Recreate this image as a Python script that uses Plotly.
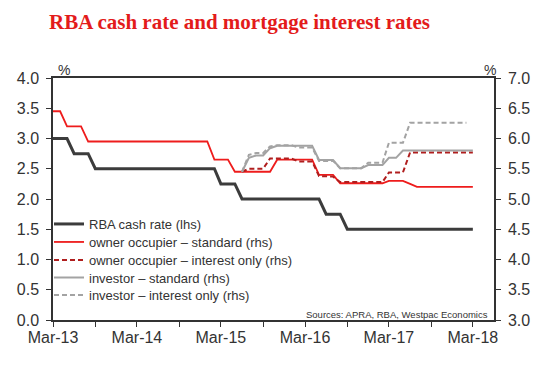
import pandas as pd
import plotly.graph_objects as go

# ---- data (monthly, first of month) ----
months = pd.date_range("2013-03-01", "2018-03-01", freq="MS")  # 61 months

cash_rate = ([3.0] * 3 + [2.75] * 3 + [2.5] * 18 + [2.25] * 3 + [2.0] * 12
             + [1.75] * 3 + [1.5] * 19)

oo_standard = ([6.45] * 2 + [6.20] * 3 + [5.95] * 18 + [5.65] * 3 + [5.45] * 6
               + [5.65] * 6 + [5.40] * 3 + [5.26] * 7 + [5.30] * 3 + [5.25]
               + [5.20] * 9)

# series below start in Jun-15
mortgage_start = "2015-06-01"
oo_interest_only = ([5.45] + [5.50] * 3 + [5.67] * 4 + [5.62] * 3 + [5.38]
                    + [5.37] * 2 + [5.28] * 7 + [5.44] * 3 + [5.77] * 10)
inv_standard = ([5.45] + [5.68] + [5.72] * 2 + [5.84] + [5.88] * 6 + [5.645] * 3
                + [5.51] * 4 + [5.56] * 3 + [5.68] * 2 + [5.80] * 11)
inv_interest_only = ([5.45] + [5.73] + [5.76] * 2 + [5.87] + [5.89] * 3
                     + [5.85] * 3 + [5.63] * 3 + [5.51] * 4 + [5.60] * 3
                     + [5.93] * 3 + [6.26] * 9)

tick_dates = pd.date_range("2013-03-01", "2018-03-01", freq="6MS")
tick_labels = ["Mar-13", "", "Mar-14", "", "Mar-15", "", "Mar-16", "",
               "Mar-17", "", "Mar-18"]

series_names = ["RBA cash rate (lhs)",
                "owner occupier \u2013 standard (rhs)",
                "owner occupier \u2013 interest only (rhs)",
                "investor \u2013 standard (rhs)",
                "investor \u2013 interest only (rhs)"]


def dates_from(start, n):
    return pd.date_range(start, periods=n, freq="MS")


W, H = 553, 378
ML, MR, MT, MB = 53, 59, 78, 58
PW, PH = W - ML - MR, H - MT - MB


def px(xp):
    return (xp - ML) / PW


def py(yp):
    return (H - MB - yp) / PH


SANS = "Liberation Sans, Arial, sans-serif"
AX = "#333333"

legend_ids = ["legend", "legend2", "legend3", "legend4", "legend5"]
legend_row_centers = [225, 243, 261, 278.5, 296]

fig = go.Figure()
fig.add_trace(go.Scatter(x=months, y=cash_rate, name=series_names[0], yaxis="y",
                         legend=legend_ids[0], mode="lines",
                         line=dict(color="#3c3c3c", width=3)))
fig.add_trace(go.Scatter(x=months, y=oo_standard, name=series_names[1], yaxis="y2",
                         legend=legend_ids[1], mode="lines",
                         line=dict(color="#ee1c1c", width=1.8)))
fig.add_trace(go.Scatter(x=dates_from(mortgage_start, len(oo_interest_only)),
                         y=oo_interest_only, name=series_names[2], yaxis="y2",
                         legend=legend_ids[2], mode="lines",
                         line=dict(color="#b01e1e", width=2, dash="5px,3px")))
fig.add_trace(go.Scatter(x=dates_from(mortgage_start, len(inv_standard)),
                         y=inv_standard, name=series_names[3], yaxis="y2",
                         legend=legend_ids[3], mode="lines",
                         line=dict(color="#a3a3a3", width=2)))
fig.add_trace(go.Scatter(x=dates_from(mortgage_start, len(inv_interest_only)),
                         y=inv_interest_only, name=series_names[4], yaxis="y2",
                         legend=legend_ids[4], mode="lines",
                         line=dict(color="#a3a3a3", width=2, dash="5px,3px")))

axis_common = dict(showgrid=False, zeroline=False, showline=True, linecolor=AX,
                   linewidth=1.5, ticks="outside", ticklen=5, tickcolor=AX,
                   tickwidth=1.2, automargin=False,
                   tickfont=dict(family=SANS, size=16, color=AX))

legends = {}
for lid, yc in zip(legend_ids, legend_row_centers):
    legends[lid] = dict(xref="paper", yref="paper", x=px(49), xanchor="left",
                        y=py(yc - 16), yanchor="top", bgcolor="rgba(0,0,0,0)",
                        font=dict(family=SANS, size=13, color=AX),
                        itemwidth=30)

fig.update_layout(
    width=W, height=H,
    margin=dict(l=ML, r=MR, t=MT, b=MB, autoexpand=False),
    paper_bgcolor="white", plot_bgcolor="white",
    showlegend=True,
    title=dict(text="<b>RBA cash rate and mortgage interest rates</b>",
               font=dict(family="Liberation Serif, Times New Roman, serif",
                         size=21, color="#e31b1b"),
               xref="container", yref="container", x=49 / W, xanchor="left",
               y=1 - 22 / H, yanchor="middle"),
    xaxis=dict(type="date", range=["2013-03-01", "2018-06-01"],
               tickmode="array", tickvals=tick_dates, ticktext=tick_labels,
               tickangle=0, mirror=True, ticklabelstandoff=-3, **axis_common),
    yaxis=dict(range=[0, 4], dtick=0.5, tickformat=".1f", ticklabelstandoff=4,
               **axis_common),
    yaxis2=dict(range=[3, 7], dtick=0.5, tickformat=".1f", overlaying="y",
                side="right", ticklabelstandoff=4, **axis_common),
    annotations=[
        dict(text="%", xref="paper", yref="paper", x=px(64), y=py(70),
             xanchor="center", yanchor="middle", showarrow=False,
             font=dict(family=SANS, size=14, color=AX)),
        dict(text="%", xref="paper", yref="paper", x=px(490), y=py(70),
             xanchor="center", yanchor="middle", showarrow=False,
             font=dict(family=SANS, size=14, color=AX)),
        dict(text="Sources: APRA, RBA, Westpac Economics", xref="paper",
             yref="paper", x=px(490), y=py(314), xanchor="right",
             yanchor="middle", showarrow=False,
             font=dict(family=SANS, size=9.5, color=AX)),
    ],
    **legends,
)

fig.write_html("out.html",
               config={"displayModeBar": False},
               post_script="document.body.style.margin='0px';"
                           "document.body.style.overflow='hidden';")
